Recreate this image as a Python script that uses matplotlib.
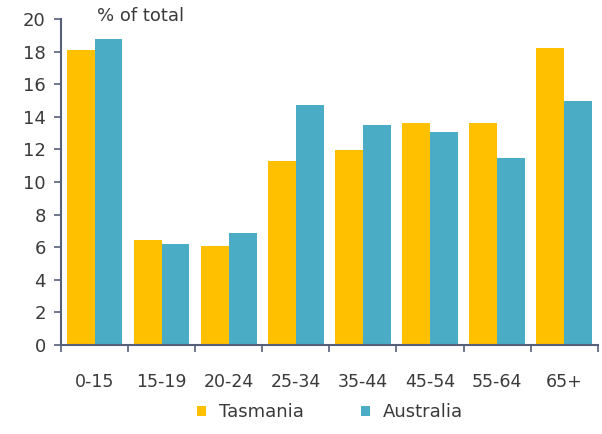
import matplotlib
matplotlib.use("Agg")
import matplotlib.pyplot as plt
import numpy as np

categories = ["0-15", "15-19", "20-24", "25-34", "35-44", "45-54", "55-64", "65+"]
tasmania = [18.1, 6.45, 6.05, 11.3, 11.95, 13.65, 13.65, 18.2]
australia = [18.75, 6.2, 6.9, 14.7, 13.5, 13.05, 11.5, 15.0]
yticks = [0, 2, 4, 6, 8, 10, 12, 14, 16, 18, 20]

plt.rcParams['font.family'] = ['DejaVu Sans']
txt = '#3a3a3a'
axcol = '#56607a'

fig = plt.figure(figsize=(6.02, 4.34), dpi=100)
ax = fig.add_axes([0.1013, 0.205, 0.8917, 0.751])
x = np.arange(len(categories))
w = 0.415
ax.bar(x - w/2, tasmania, w, color='#FFC000', label='Tasmania')
ax.bar(x + w/2, australia, w, color='#4BACC6', label='Australia')

ax.set_xlim(-0.5, len(categories) - 0.5)
ax.set_ylim(0, 20)
ax.set_yticks(yticks)
ax.set_yticklabels([str(v) for v in yticks], fontsize=13, color=txt)
ax.set_xticks(x)
ax.set_xticklabels(categories, fontsize=12.5, color=txt)
ax.set_xticks(np.arange(len(categories) + 1) - 0.5, minor=True)
ax.tick_params(axis='x', which='major', length=0, pad=20)
ax.tick_params(axis='x', which='minor', length=5, width=1.2, color=axcol, direction='out')
ax.tick_params(axis='y', length=5, width=1.2, color=axcol, direction='out', pad=6)
for s in ['top', 'right']:
    ax.spines[s].set_visible(False)
for s in ['left', 'bottom']:
    ax.spines[s].set_color(axcol)
    ax.spines[s].set_linewidth(1.5)

fig.text(0.161, 0.962, '% of total', fontsize=13, color=txt, ha='left', va='center')

leg = fig.legend(loc='center', bbox_to_anchor=(0.548, 0.05), ncol=2, frameon=False,
                 fontsize=13, handlelength=0.5, handleheight=0.5, columnspacing=3.2,
                 handletextpad=0.7)
for t in leg.get_texts():
    t.set_color(txt)

fig.savefig('out.png', dpi=100)
